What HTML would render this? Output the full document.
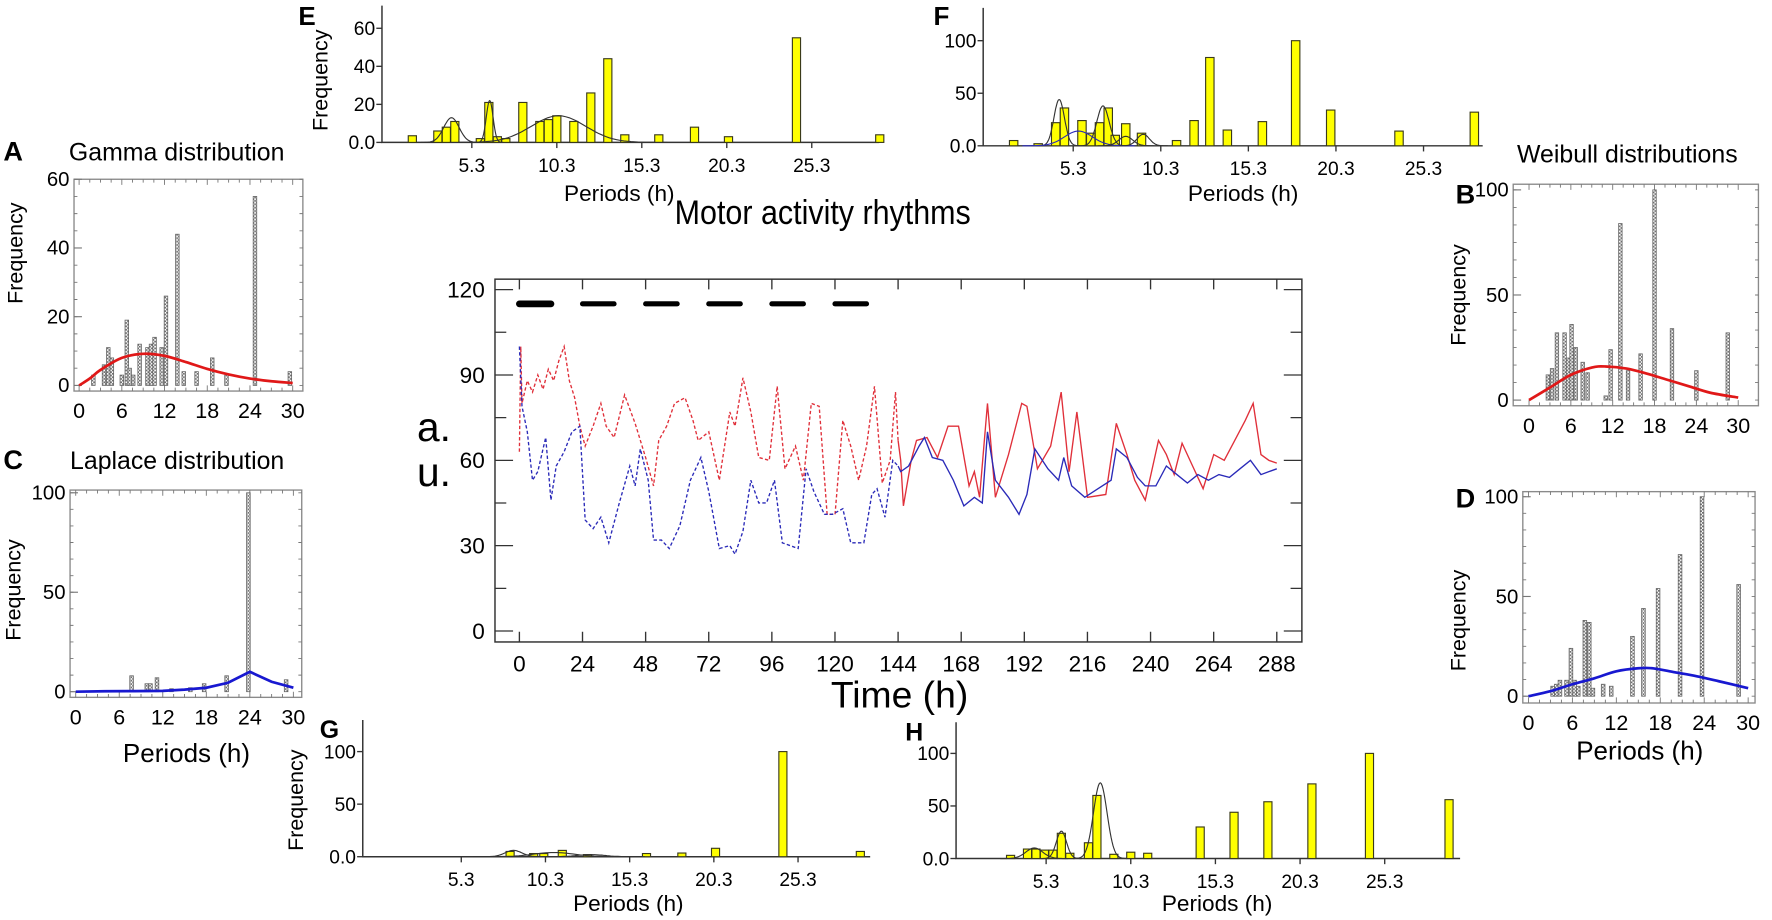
<!DOCTYPE html>
<html><head><meta charset="utf-8"><style>
html,body{margin:0;padding:0;background:#fff;}
svg{display:block;font-family:"Liberation Sans",Arial,sans-serif;}
</style></head><body>
<svg id="fig" xmlns="http://www.w3.org/2000/svg" width="1772" height="920" viewBox="0 0 1568 814" preserveAspectRatio="none">
<defs>
<pattern id="chk" width="3" height="3" patternUnits="userSpaceOnUse"><rect width="3" height="3" fill="#fff"/><rect width="1.5" height="1.5" fill="#6e6e6e"/><rect x="1.5" y="1.5" width="1.5" height="1.5" fill="#6e6e6e"/></pattern>
</defs>
<rect x="0" y="0" width="1568" height="814" fill="#fff"/>
<text x="597" y="198" font-size="30" textLength="262" lengthAdjust="spacingAndGlyphs">Motor activity rhythms</text>
<text x="369" y="390" font-size="36">a.</text>
<text x="369" y="430" font-size="36">u.</text>
<text x="796" y="626" font-size="33" text-anchor="middle">Time (h)</text>
<text x="3" y="142" font-size="24" font-weight="bold">A</text>
<text x="61" y="142" font-size="22">Gamma distribution</text>
<text x="3" y="415" font-size="24" font-weight="bold">C</text>
<text x="62" y="415" font-size="22">Laplace distribution</text>
<text x="1440" y="144" font-size="22" text-anchor="middle">Weibull distributions</text>
<text x="1288" y="180" font-size="24" font-weight="bold">B</text>
<text x="1288" y="449" font-size="24" font-weight="bold">D</text>
<text x="264" y="22" font-size="23" font-weight="bold">E</text>
<text x="826" y="22" font-size="23" font-weight="bold">F</text>
<text x="283" y="653" font-size="22" font-weight="bold">G</text>
<text x="801" y="655" font-size="22" font-weight="bold">H</text>
</svg>
<script>
// ---------- main chart data ----------
const mainTimeTicks=[0,24,48,72,96,120,144,168,192,216,240,264,288];
const mainValueTicks=[0,30,60,90,120];
const darkStarts=[0,24,48,72,96,120];
const darkLength=12;
const redTimes=[0,0.5,1,3,5,7,9,11,13,15,17,19,21,23,25,28,31,33,36,40,44,48,51,53,56,59,63,66,68,72,76,80,82,85,88,91,95,98,101,105,108,111,114,117,120,123,126,129,132,135,138,141,143,144,145,146,149,151,155,159,163,167,171,173,175,178,181,186,191,193,197,202,206,209,212,216,223,227,231,234,238,243,246,249,252,256,260,264,268,272,276,279,282,285,288];
const redValues=[63,100,80,88,84,90,85,92,88,95,100,88,82,72,65,72,80,72,68,83,73,61,51,67,72,80,82,74,67,70,53,77,72,89,77,61,60,86,57,65,53,80,79,41,41,74,65,53,65,86,52,60,84,67,60,44,60,67,68,61,72,72,51,56,47,80,47,62,80,79,57,65,84,56,77,47,48,73,62,53,46,67,62,55,66,58,50,62,60,67,74,80,62,60,59];
const blueTimes=[0,1,3,5,7,9,10,12,14,17,20,23,25,28,31,34,38,42,44,46,49,51,54,57,61,65,69,72,76,80,82,85,88,91,94,97,100,106,109,112,116,119,123,126,131,134,136,139,142,144,145,148,152,154,157,161,165,169,173,176,178,181,186,190,193,196,201,205,207,210,215,220,225,227,231,235,238,242,246,250,254,258,262,266,270,274,278,282,285,288];
const blueValues=[100,79,70,53,56,64,68,46,58,63,70,72,39,36,40,31,45,58,51,64,53,32,32,29,37,53,61,49,29,30,27,35,53,45,45,53,31,29,57,49,41,41,43,31,31,48,50,40,60,58,56,58,65,68,61,60,53,44,47,45,70,53,47,41,48,64,57,53,61,51,47,50,53,64,61,54,51,51,58,55,52,55,53,55,54,57,60,55,56,57];
const solidFrom=144;

// ---------- histogram data ----------
const periodTicks=[5.3,10.3,15.3,20.3,25.3];
const eYTicks=[0,20,40,60];
const eYLabels=['0.0','20','40','60'];
const ePeriods=[1.8,3.3,3.8,4.3,5.8,6.3,6.8,7.3,8.3,9.3,9.8,10.3,11.3,12.3,13.3,14.3,16.3,18.4,20.4,24.4,29.3];
const eFreq=[3.5,6,8,11,2,21,3,2,21,11,12,14,11,26,44,4,4,8,3,55,4];
const eFitMu=[4.1,6.35,10.4];
const eFitAmp=[13,22,14];
const eFitSd=[0.45,0.2,1.6];

const fYTicks=[0,50,100];
const fYLabels=['0.0','50','100'];
const fPeriods=[1.9,3.3,4.3,4.8,5.8,6.3,6.8,7.3,7.7,8.3,9.2,11.2,12.2,13.1,14.1,16.1,18.0,20.0,23.9,28.2];
const fFreq=[5,2,22,36,24,12,22,36,10,21,12,5,24,84,15,23,100,34,14,32];
const fFitMu=[4.5,7.0,5.6,8.3,9.3];
const fFitAmp=[44,38,14,9,11];
const fFitSd=[0.3,0.35,0.8,0.4,0.35];

const gYTicks=[0,50,100];
const gYLabels=['0.0','50','100'];
const gPeriods=[8.2,9.6,10.2,11.3,12.8,16.3,18.4,20.4,24.4,29.0];
const gFreq=[5,3,3,6,2,3,3.5,8,100,5];
const gFitMu=[8.4,10.8,13.0];
const gFitAmp=[6,4,2];
const gFitSd=[0.5,1.2,0.8];

const hYTicks=[0,50,100];
const hYLabels=['0.0','50','100'];
const hPeriods=[3.2,4.2,4.7,5.2,5.7,6.2,6.7,7.8,8.3,9.3,10.3,11.3,14.4,16.4,18.4,21.0,24.4,29.1];
const hFreq=[3,9,9,8,8,24,5,15,60,4,6,5,30,44,54,71,100,56];
const hFitMu=[4.6,6.2,8.5];
const hFitAmp=[10,26,72];
const hFitSd=[0.5,0.3,0.4];

const gridTicks=[0,6,12,18,24,30];
const aYTicks=[0,20,40,60];
const aPeriods=[2.0,3.5,4.1,4.6,6.0,6.7,7.1,7.6,8.5,9.6,10.1,10.6,11.6,12.2,13.8,14.7,16.5,18.7,20.7,24.7,29.6];
const aFreq=[3,6,11,8,3,19,5,3,12,11,12,14,11,26,44,4,4,8,3,55,4];
const aCurveX=[0,1.5,3,6,9,12,15,18,21,24,27,30];
const aCurveY=[0,2,4.5,8,9.2,8.6,6.8,4.8,3.2,2,1.2,0.7];

const bYTicks=[0,50,100];
const bPeriods=[2.7,3.3,4.0,5.1,5.6,6.1,6.7,7.7,8.4,11.0,11.7,13.1,14.2,16.0,18.0,20.5,24.0,28.5];
const bFreq=[12,15,32,32,20,36,25,18,13,2,24,84,14,22,100,34,14,32];
const bCurveX=[0,3,6,9,11,14,17,20,23,26,30];
const bCurveY=[0,6,12,15.5,16,15,12.5,9.5,6.5,3.5,1.2];

const cYTicks=[0,50,100];
const cPeriods=[7.7,9.8,10.3,11.2,13.2,15.8,17.7,20.8,23.8,29.0];
const cFreq=[8,4,4,7,1.5,2,4,8,100,6];
const cCurveX=[0,4,8,12,15,18,21,24,27,30];
const cCurveY=[0,0.2,0.3,0.4,1,2,4.5,10,5,2];

const dYTicks=[0,50,100];
const dPeriods=[3.3,3.8,4.3,5.2,5.8,6.3,6.8,7.7,8.3,8.8,10.2,11.3,14.2,15.7,17.7,20.7,23.7,28.7];
const dFreq=[5,6,8,8,24,8,5,38,37,4,6,5,30,44,54,71,100,56];
const dCurveX=[0,3,6,9,12,15,17,20,23,26,30];
const dCurveY=[0,2.5,6,9,12.5,14,14,12,10,7.5,4];

// ---------- helpers ----------
const NS='http://www.w3.org/2000/svg';
const svg=document.getElementById('fig');
function mk(tag,attrs,parent){const e=document.createElementNS(NS,tag);for(const k in attrs)e.setAttribute(k,attrs[k]);(parent||svg).appendChild(e);return e;}
function smoothPath(pts){let d='M'+pts[0][0]+','+pts[0][1];for(let i=0;i<pts.length-1;i++){const p0=pts[i-1]||pts[i],p1=pts[i],p2=pts[i+1],p3=pts[i+2]||p2;const c1x=p1[0]+(p2[0]-p0[0])/6,c1y=p1[1]+(p2[1]-p0[1])/6,c2x=p2[0]-(p3[0]-p1[0])/6,c2y=p2[1]-(p3[1]-p1[1])/6;d+=' C'+c1x+','+c1y+' '+c2x+','+c2y+' '+p2[0]+','+p2[1];}return d;}

// ---------- main chart ----------
(function(){
  const L=438,T=247,R=1152,B=568;
  const X=h=>459.6+h*55.85/24, Y=v=>558.3-v*2.517;
  const g=mk('g',{});
  
  
  const fr=mk('rect',{x:L,y:T,width:R-L,height:B-T,fill:'none',stroke:'#333','stroke-width':1.3},g);
  
  
  mainTimeTicks.forEach(t=>{
    const tk=mk('path',{d:'M'+X(t)+','+B+'v-9M'+X(t)+','+T+'v9',stroke:'#333','stroke-width':1.2},g);
    
    
    const lb=mk('text',{x:X(t),y:594,'font-size':20,'text-anchor':'middle'},g);
    
    
    lb.textContent=t;
  });
  for(let v=0;v<=120;v+=15){
    const major=mainValueTicks.indexOf(v)>=0;
    const tk=mk('path',{d:'M'+L+','+Y(v)+'h'+(major?16:10)+'M'+R+','+Y(v)+'h-'+(major?16:10),stroke:'#333','stroke-width':1.1},g);
    
    
  }
  mainValueTicks.forEach(v=>{
    const lb=mk('text',{x:429,y:Y(v)+7,'font-size':20,'text-anchor':'end'},g);
    
    
    lb.textContent=v;
  });
  darkStarts.forEach((s,i)=>{
    const d=mk('line',{x1:X(s),x2:X(s+darkLength),y1:Y(115),y2:Y(115),stroke:'#000','stroke-width':i===0?6:4.5,'stroke-linecap':'round'},g);
    
    
  });
  function series(times,vals,color,name){
    let dash='',solid='';
    times.forEach((t,i)=>{
      const p=X(t).toFixed(1)+','+Y(vals[i]).toFixed(1);
      if(t<=solidFrom) dash+=(dash?' L':'M')+p;
      if(t>=solidFrom) solid+=(solid?' L':'M')+p;
    });
    const a=mk('path',{d:dash,fill:'none',stroke:color,'stroke-width':1.2,'stroke-dasharray':'3,2'},g);
    
    
    const b=mk('path',{d:solid,fill:'none',stroke:color,'stroke-width':1.2},g);
    
    
  }
  series(redTimes,redValues,'#e0303a','red-series');
  series(blueTimes,blueValues,'#2a2ab8','blue-series');
})();

// ---------- yellow histograms ----------
function yellowPanel(p,periods,freq,yTicks,yLabels,mu,amp,sd,name){
  const X=h=>p.x0+h*p.xs, Y=v=>p.y0-v*p.ys;
  const g=mk('g',{});
  
  
  const ax=mk('path',{d:'M'+p.axL+','+p.yTop+'V'+p.y0+'H'+p.axR,fill:'none',stroke:'#333','stroke-width':1.3},g);
  
  
  yTicks.forEach((v,i)=>{
    const t=mk('line',{x1:p.axL-5,x2:p.axL,y1:Y(v),y2:Y(v),stroke:'#333','stroke-width':1.2},g);
    
    
    const lb=mk('text',{x:p.axL-6,y:Y(v)+6,'font-size':17,'text-anchor':'end'},g);
    
    
    lb.textContent=yLabels[i];
  });
  periodTicks.forEach(h=>{
    const t=mk('line',{x1:X(h),x2:X(h),y1:p.y0,y2:p.y0+5,stroke:'#333','stroke-width':1.2},g);
    
    
    const lb=mk('text',{x:X(h),y:p.y0+26,'font-size':17,'text-anchor':'middle'},g);
    
    
    lb.textContent=h.toFixed(1);
  });
  const bw=0.48*p.xs;
  periods.forEach((h,i)=>{
    const r=mk('rect',{x:X(h)-bw/2,y:Y(freq[i]),width:bw,height:freq[i]*p.ys,fill:'#ffff00',stroke:'#3a3a1a','stroke-width':1},g);
    
    
  });
  mu.forEach((m,i)=>{
    let d='';
    for(let k=0;k<=60;k++){const h=m-4*sd[i]+k*8*sd[i]/60;const v=amp[i]*Math.exp(-0.5*Math.pow((h-m)/sd[i],2));d+=(k?' L':'M')+X(h).toFixed(1)+','+Y(v).toFixed(1);}
    const c=mk('path',{d:d,fill:'none',stroke:p.fitColors?p.fitColors[i]:'#333','stroke-width':1},g);
    
    
  });
  const pl=mk('text',{x:p.plX,y:p.plY,'font-size':20,'text-anchor':'middle'},g);
  
  
  pl.textContent='Periods (h)';
  if(p.freqX){
    const fl=mk('text',{x:0,y:0,'font-size':19,'text-anchor':'middle',transform:'translate('+p.freqX+','+p.freqY+') rotate(-90)'},g);
    
    
    fl.textContent='Frequency';
  }
}
yellowPanel({x0:337.8,xs:15.04,y0:126,ys:1.683,axL:338,axR:778,yTop:5,plX:548,plY:178,freqX:290,freqY:71},ePeriods,eFreq,eYTicks,eYLabels,eFitMu,eFitAmp,eFitSd,'panel-e');
yellowPanel({x0:867.5,xs:15.5,y0:129,ys:0.93,axL:870,axR:1312,yTop:7,plX:1100,plY:178,fitColors:['#333','#333','#2a2ab8','#333','#333']},fPeriods,fFreq,fYTicks,fYLabels,fFitMu,fFitAmp,fFitSd,'panel-f');
yellowPanel({x0:329.2,xs:14.9,y0:758,ys:0.93,axL:321,axR:770,yTop:637,plX:556,plY:806,freqX:268,freqY:708},gPeriods,gFreq,gYTicks,gYLabels,gFitMu,gFitAmp,gFitSd,'panel-g');
yellowPanel({x0:846.3,xs:14.98,y0:759.6,ys:0.93,axL:846,axR:1292,yTop:639,plX:1077,plY:806},hPeriods,hFreq,hYTicks,hYLabels,hFitMu,hFitAmp,hFitSd,'panel-h');

// ---------- gray distribution panels ----------
function grayPanel(p,periods,freq,yTicks,cx,cy,color,smooth,name){
  const X=h=>p.x0+h*p.xs, Y=v=>p.y0-v*p.ys;
  const g=mk('g',{});
  
  
  const fr=mk('rect',{x:p.L,y:p.T,width:p.R-p.L,height:p.B-p.T,fill:'none',stroke:'#8a8a8a','stroke-width':1.2},g);
  
  
  let md='';
  for(let h=0;h<=30;h+=1.5){const big=(h%6===0);md+='M'+X(h)+','+p.B+'v-'+(big?5:3)+'M'+X(h)+','+p.T+'v'+(big?5:3);}
  const ymax=yTicks[yTicks.length-1];
  for(let v=0;v<=ymax;v+=ymax/12){md+='M'+p.L+','+Y(v)+'h3M'+p.R+','+Y(v)+'h-3';}
  const mt=mk('path',{d:md,stroke:'#777','stroke-width':0.8},g);
  
  
  gridTicks.forEach(h=>{
    const lb=mk('text',{x:X(h),y:p.B+24,'font-size':19,'text-anchor':'middle'},g);
    
    
    lb.textContent=h;
  });
  yTicks.forEach(v=>{
    const t=mk('line',{x1:p.L,x2:p.L+7,y1:Y(v),y2:Y(v),stroke:'#777','stroke-width':1},g);
    
    
    const lb=mk('text',{x:p.L-4,y:Y(v)+6,'font-size':18,'text-anchor':'end'},g);
    
    
    lb.textContent=v;
  });
  const bw=0.5*p.xs;
  periods.forEach((h,i)=>{
    const r=mk('rect',{x:X(h)-bw/2,y:Y(freq[i]),width:bw,height:freq[i]*p.ys,fill:'url(#chk)',stroke:'#666','stroke-width':0.7},g);
    
    
  });
  const pts=cx.map((h,i)=>[X(h),Y(cy[i])]);
  const d=smooth?smoothPath(pts):'M'+pts.map(q=>q[0].toFixed(1)+','+q[1].toFixed(1)).join(' L');
  const c=mk('path',{d:d,fill:'none',stroke:color,'stroke-width':2.4},g);
  
  
  const fl=mk('text',{x:0,y:0,'font-size':19,'text-anchor':'middle',transform:'translate('+p.fx+','+p.fy+') rotate(-90)'},g);
  
  
  fl.textContent='Frequency';
  if(p.plY){
    const pl=mk('text',{x:p.plX,y:p.plY,'font-size':23,'text-anchor':'middle'},g);
    
    
    pl.textContent='Periods (h)';
  }
}
grayPanel({L:65.5,T:158.6,R:268,B:346,x0:70,xs:6.3,y0:341,ys:3.04,fx:20,fy:224},aPeriods,aFreq,aYTicks,aCurveX,aCurveY,'#e01818',true,'panel-a-gamma');
grayPanel({L:1339,T:163,R:1556,B:359,x0:1353,xs:6.17,y0:354,ys:1.86,fx:1297,fy:261},bPeriods,bFreq,bYTicks,bCurveX,bCurveY,'#e01818',true,'panel-b-weibull');
grayPanel({L:62,T:433.6,R:267,B:617,x0:67,xs:6.42,y0:612,ys:1.76,fx:18,fy:522,plX:165,plY:674},cPeriods,cFreq,cYTicks,cCurveX,cCurveY,'#1818d0',false,'panel-c-laplace');
grayPanel({L:1347.5,T:435,R:1553,B:622,x0:1352.5,xs:6.48,y0:616,ys:1.765,fx:1297,fy:549,plX:1451,plY:672},dPeriods,dFreq,dYTicks,dCurveX,dCurveY,'#1818d0',true,'panel-d');
</script>
</body></html>
